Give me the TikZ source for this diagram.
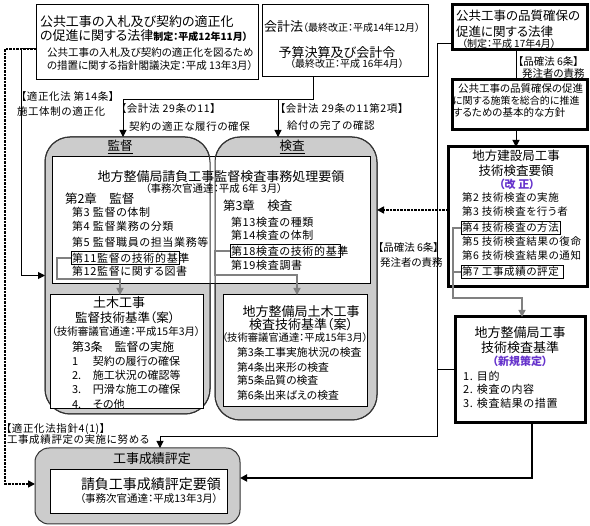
\documentclass[tikz,border=0pt]{standalone}
\usepackage{fontspec}
\setmainfont{Noto Sans CJK JP}[RawFeature={+palt}]
\newfontfamily\jpsp{Noto Sans CJK JP}[RawFeature={+palt}, LetterSpace=6]
\usetikzlibrary{arrows.meta,fit}
\definecolor{purp}{RGB}{102,51,204}
\newcommand\fsXL{\fontsize{14}{16}\selectfont}
\newcommand\fsL{\fontsize{13}{15}\selectfont}
\newcommand\fsT{\fontsize{12.5}{14}\selectfont}
\newcommand\fsM{\fontsize{11}{13}\selectfont}
\newcommand\fsS{\fontsize{10.5}{12}\selectfont}
\newcommand\fsXS{\fontsize{10}{12}\selectfont}
\begin{document}
\begin{tikzpicture}[x=1pt,y=-1pt,
  box/.style={draw, inner sep=0pt, outer sep=0pt, fill=white, line width=1pt},
  tbox/.style={draw, inner sep=0pt, outer sep=0pt, fill=white, line width=3pt},
  gbox/.style={draw=black!80, fill=gray!40, inner sep=0pt, outer sep=0pt, line width=1pt},
  txt/.style={inner sep=0pt, outer sep=0pt},
  itembox/.style={draw, line width=1pt, inner xsep=1pt, inner ysep=1.5pt, outer sep=0pt},
  arr/.style={-{Triangle[length=7pt,width=7pt]}},
  ln/.style={line width=1pt},
  gln/.style={draw=black!50, line width=1.5pt},
  dsh/.style={line width=1.6pt, dash pattern=on 2.5pt off 1pt},
]
\useasboundingbox (0,0) rectangle (590,526);

% ---------- gray frames and inner boxes ----------
\node[gbox, rounded corners=25pt, fit={(45,137) (210,414)}] (kantoku) {};
\node[gbox, rounded corners=25pt, fit={(215,137) (377,420)}] (kensa) {};
\node[box, fit={(52,157) (370,284)}] (youryo) {};
\draw[black!80, line width=1pt, rounded corners=25pt] (kantoku.north west) rectangle (kantoku.south east);
\draw[black!80, line width=1pt, rounded corners=25pt] (kensa.north west) rectangle (kensa.south east);
\node[box, fit={(50,295) (203,409)}] (doboku) {};
\node[box, fit={(223,295) (367,407)}] (kkijun) {};
\node[gbox, rounded corners=14pt, fit={(35,448) (240,524)}] (seiseki) {};
\node[box, fit={(50,470) (227,514)}] (seiin) {};

% ---------- top boxes ----------
\node[box, fit={(36,5) (258,80)}] (b1) {};
\node[box, fit={(262,5) (428,77)}] (b2) {};
\node[tbox, fit={(452,5) (587,50)}] (b3) {};
\node[tbox, fit={(452,80) (587,130)}] (b4) {};
\node[tbox, fit={(448,147) (587,287)}] (b5) {};
\node[tbox, fit={(455,317) (585,423)}] (b6) {};

% ---------- box 1 ----------
\node[txt, anchor=west, font=\fsL] (t1a) at (40,22) {公共工事の入札及び契約の適正化};
\node[txt, anchor=west] (t1b) at (40,36) {{\fsL の促進に関する法律}{\fsXS\bfseries 制定：平成12年11月）}};
\node[txt, anchor=west, font=\fsS] (t1c) at (47,53) {公共工事の入札及び契約の適正化を図るため};
\node[txt, anchor=west, font=\fsS] (t1d) at (47,66) {の措置に関する指針閣議決定：平成 13年3月）};

% ---------- box 2 ----------
\node[txt, anchor=west] (t2a) at (264,27) {{\fsL 会計法}{\fsXS （最終改正：平成14年12月）}};
\node[txt, font=\fsL] (t2b) at (337,53) {予算決算及び会計令};
\node[txt, font=\fsXS] (t2c) at (347,64) {（最終改正：平成 16年4月）};

% ---------- box 3 ----------
\node[txt, anchor=west, font=\fsT] (t3a) at (456,16) {公共工事の品質確保の};
\node[txt, anchor=west, font=\fsT] (t3b) at (456,32) {促進に関する法律};
\node[txt, anchor=west, font=\fsXS] (t3c) at (462,44) {（制定：平成 17年4月）};

% ---------- box 4 ----------
\node[txt, anchor=west, font=\fsS] (t4a) at (458,89) {公共工事の品質確保の促進};
\node[txt, anchor=west, font=\fsXS] (t4b) at (453,101) {に関する施策を総合的に推進};
\node[txt, anchor=west, font=\fsS] (t4c) at (453,113) {するための基本的な方針};
\node[txt, anchor=west, font=\fsS] (l34a) at (518,62) {【品確法 6条】};
\node[txt, anchor=west, font=\fsS] (l34b) at (522,74) {発注者の責務};

% ---------- box 5 ----------
\node[txt, font=\fsT] (t5a) at (516,156) {地方建設局工事};
\node[txt, font=\fsT] (t5b) at (516,171) {技術検査要領};
\node[txt, font=\fsM\bfseries, text=purp] (t5c) at (517,184) {（改 正）};
\node[txt, anchor=west, font=\jpsp\fsS] (t5d) at (462,198) {第2 技術検査の実施};
\node[txt, anchor=west, font=\jpsp\fsS] (t5e) at (462,212) {第3 技術検査を行う者};
\node[itembox, anchor=west, font=\jpsp\fsS] (n4) at (461,228) {\makebox[97pt][l]{第4 技術検査の方法}};
\node[txt, anchor=west, font=\jpsp\fsS] (t5f) at (462,242) {第5 技術検査結果の復命};
\node[txt, anchor=west, font=\jpsp\fsS] (t5g) at (462,256) {第6 技術検査結果の通知};
\node[itembox, anchor=west, font=\jpsp\fsS] (n7) at (461,272) {\makebox[100pt][l]{第7 工事成績の評定}};

% ---------- box 6 ----------
\node[txt, font=\fsL] (t6a) at (520,333) {地方整備局工事};
\node[txt, font=\fsL] (t6b) at (520,348) {技術検査基準};
\node[txt, font=\fsM\bfseries, text=purp] (t6c) at (520,361) {（新規策定）};
\node[txt, anchor=west, font=\jpsp\fsM] (t6d) at (463,376) {1. 目的};
\node[txt, anchor=west, font=\jpsp\fsM] (t6e) at (463,389) {2. 検査の内容};
\node[txt, anchor=west, font=\jpsp\fsM] (t6f) at (463,403) {3. 検査結果の措置};

% ---------- kantoku / kensa ----------
\node[txt, font=\fsT] (kt) at (120,147) {\underline{監督}};
\node[txt, font=\fsT] (kst) at (292,147) {\underline{検査}};
\node[txt, font=\fsL] (ty1) at (221,177) {地方整備局請負工事監督検査事務処理要領};
\node[txt, font=\fsS] (ty2) at (214,189) {（事務次官通達：平成 6年 3月）};
\node[txt, anchor=west, font=\fsT] (ty3) at (65,199) {第2章　監督};
\node[txt, anchor=west, font=\jpsp\fsM] (k3) at (72,212) {第3 監督の体制};
\node[txt, anchor=west, font=\jpsp\fsM] (k4) at (72,226) {第4 監督業務の分類};
\node[txt, anchor=west, font=\jpsp\fsM] (k5) at (72,242) {第5 監督職員の担当業務等};
\node[itembox, anchor=west, font=\jpsp\fsM] (n11) at (71,258) {\makebox[106pt][l]{第11監督の技術的基準}};
\node[txt, anchor=west, font=\jpsp\fsM] (k12) at (72,271) {第12監督に関する図書};
\node[txt, anchor=west, font=\fsT] (ty4) at (223,206) {第3章　検査};
\node[txt, anchor=west, font=\jpsp\fsM] (s13) at (231,222) {第13検査の種類};
\node[txt, anchor=west, font=\jpsp\fsM] (s14) at (231,235) {第14検査の体制};
\node[itembox, anchor=west, font=\jpsp\fsM] (n18) at (230,251) {\makebox[108pt][l]{第18検査の技術的基準}};
\node[txt, anchor=west, font=\jpsp\fsM] (s19) at (231,265) {第19検査調書};

% ---------- doboku ----------
\node[txt, font=\fsL] (d1) at (119,303) {土木工事};
\node[txt, font=\fsT] (d2) at (125,318) {監督技術基準（案）};
\node[txt, font=\fsS] (d3) at (126,332) {（技術審議官通達：平成15年3月）};
\node[txt, anchor=west, font=\fontsize{12}{14}\selectfont] (d4) at (72,347) {第3条　監督の実施};
\node[txt, anchor=west, font=\fsM] (d5) at (72,361) {\makebox[21pt][l]{1}契約の履行の確保};
\node[txt, anchor=west, font=\fsM] (d6) at (72,375) {\makebox[21pt][l]{2.}施工状況の確認等};
\node[txt, anchor=west, font=\fsM] (d7) at (72,389) {\makebox[21pt][l]{3.}円滑な施工の確保};
\node[txt, anchor=west, font=\fsM] (d8) at (72,404) {\makebox[21pt][l]{4.}その他};

% ---------- kensa kijun ----------
\node[txt, font=\fsL] (e1) at (301,312) {地方整備局土木工事};
\node[txt, font=\fsL] (e2) at (301,325) {検査技術基準（案）};
\node[txt, font=\fontsize{10.3}{12}\selectfont] (e3) at (295,338) {（技術審議官通達：平成15年3月）};
\node[txt, anchor=west, font=\fontsize{10.8}{13}\selectfont] (e4) at (237,352) {第3条工事実施状況の検査};
\node[txt, anchor=west, font=\fontsize{10.8}{13}\selectfont] (e5) at (237,367) {第4条出来形の検査};
\node[txt, anchor=west, font=\fontsize{10.8}{13}\selectfont] (e6) at (237,380) {第5条品質の検査};
\node[txt, anchor=west, font=\fontsize{10.8}{13}\selectfont] (e7) at (237,395) {第6条出来ばえの検査};

% ---------- seiseki ----------
\node[txt, font=\fsL] (g1) at (152,459) {工事成績評定};
\node[txt, font=\fsXL] (g2) at (151,484) {請負工事成績評定要領};
\node[txt, font=\fsS] (g3) at (149,499) {（事務次官通達：平成13年3月）};

% ---------- labels ----------
\node[txt, anchor=west, font=\jpsp\fsS] (la1) at (21,97) {【適正化法 第14条】};
\node[txt, anchor=west, font=\jpsp\fsS] (la2) at (17,112) {施工体制の適正化};
\node[txt, anchor=west, font=\jpsp\fsS] (la3) at (121,109) {【会計法 29条の11】};
\node[txt, anchor=west, font=\jpsp\fsS] (la4) at (129,127) {契約の適正な履行の確保};
\node[txt, anchor=west, font=\jpsp\fsS] (la5) at (280,109) {【会計法 29条の11第2項】};
\node[txt, anchor=west, font=\jpsp\fsS] (la6) at (287,126) {給付の完了の確認};
\node[txt, anchor=west, font=\fsS] (la7) at (378,248) {【品確法 6条】};
\node[txt, anchor=west, font=\fsS] (la8) at (380,263) {発注者の責務};
\node[txt, anchor=west, font=\jpsp\fsS] (la9) at (6,429) {【適正化法指針4(1)】};
\node[txt, anchor=west, font=\jpsp\fsS] (la10) at (7,440) {工事成績評定の実施に努める};

% ---------- connectors ----------
\coordinate (j1) at (313,100);
\coordinate (ka) at (123,100);
\coordinate (kb) at (278,100);
\draw[ln] (j1 |- b2.south) -- (j1) -- (ka);
\draw[ln, arr] (ka) -- (ka |- kantoku.north);
\draw[ln, arr] (kb) -- (kb |- kensa.north);

\draw[ln, arr] ([yshift=-6.5pt]b1.west) -| (21,275.5) -- (kantoku.west);
\draw[dsh, arr] ([yshift=-6.5pt]b1.west) -| (5,484) -- (5,484 -| seiseki.west);

\draw[gln, arr] (n11.west) -| (57,279) -| ([xshift=-6.5pt]doboku.north);
\draw[gln, arr] (n18.west) -| (215,275) -| ([xshift=2pt]kkijun.north);

\draw[ln] ([xshift=-3.5pt]b3.south) -- ([xshift=-3.5pt]b4.north);
\draw[ln, arr] ([xshift=-3.5pt]b4.south) -- ([xshift=-3.5pt]b4.south |- b5.north);

\draw[dsh, arr] ([yshift=7pt]b5.west) -- ([yshift=7pt]b5.west -| kensa.east);

\draw[gln, arr] (n4.west) -| (453,298) -| ([xshift=2pt]b6.north);
\draw[gln] (n7.west) -- (453,272);

\draw[ln, arr] ([yshift=-16.5pt]b3.west) -| (437,437) -| ([xshift=22.5pt]seiseki.north);
\draw[ln] (b6.west) -- ++(-18,0);
\draw[line width=2pt, arr] ([xshift=12pt]b6.south) |- ([yshift=8pt]seiseki.east);
\end{tikzpicture}
\end{document}
